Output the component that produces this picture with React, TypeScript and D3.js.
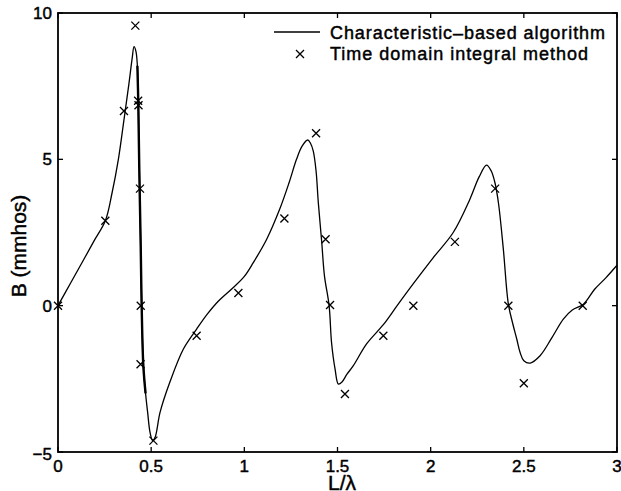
import React from "react";
import * as d3 from "d3";

const curveX = [0, 0.07, 0.136, 0.195, 0.254, 0.29, 0.324, 0.354, 0.38, 0.398, 0.408, 0.418, 0.426, 0.431, 0.436, 0.444, 0.449, 0.458, 0.47, 0.481, 0.494, 0.508, 0.521, 0.548, 0.6, 0.673, 0.744, 0.8, 0.86, 0.941, 1.0, 1.048, 1.12, 1.19, 1.24, 1.28, 1.31, 1.34, 1.355, 1.37, 1.385, 1.397, 1.415, 1.43, 1.455, 1.468, 1.487, 1.505, 1.525, 1.55, 1.585, 1.657, 1.746, 1.82, 1.907, 2.015, 2.121, 2.21, 2.26, 2.3, 2.325, 2.345, 2.364, 2.39, 2.417, 2.44, 2.462, 2.48, 2.5, 2.534, 2.587, 2.65, 2.712, 2.76, 2.82, 2.88, 2.94, 3.0];
const curveY = [0, 0.8, 1.55, 2.23, 2.9, 3.85, 5.0, 6.35, 7.55, 8.45, 8.85, 8.7, 8.2, 6.9, 4.77, 2.0, 0, -2.05, -3.0, -3.64, -4.33, -4.61, -4.5, -3.64, -2.62, -1.48, -0.8, -0.3, 0.15, 0.62, 1.0, 1.47, 2.27, 3.3, 4.2, 5.0, 5.45, 5.66, 5.55, 5.28, 4.6, 3.52, 2.2, 1.02, 0, -1.26, -2.17, -2.68, -2.6, -2.35, -2.05, -1.3, -0.65, 0.0, 0.75, 1.65, 2.5, 3.63, 4.4, 4.8, 4.6, 4.2, 3.5, 1.93, 0.05, -0.6, -1.14, -1.6, -1.88, -1.96, -1.71, -1.1, -0.46, -0.15, 0.05, 0.56, 0.95, 1.38];

const markX = [0, 0.254, 0.354, 0.415, 0.43, 0.432, 0.44, 0.444, 0.443, 0.512, 0.744, 0.968, 1.215, 1.385, 1.436, 1.46, 1.54, 1.746, 1.907, 2.13, 2.346, 2.417, 2.5, 2.816];
const markY = [0, 2.9, 6.65, 9.57, 7.0, 6.85, 4.0, 0, -2.0, -4.61, -1.03, 0.43, 2.98, 5.89, 2.27, 0.02, -3.02, -1.03, 0.0, 2.18, 4.0, 0.0, -2.65, 0.0];

const xTicks = [0, 0.5, 1, 1.5, 2, 2.5, 3];
const xTickLabels = ["0", "0.5", "1", "1.5", "2", "2.5", "3"];
const yTicks = [-5, 0, 5, 10];
const yTickLabels = ["\u22125", "0", "5", "10"];
const seriesNames = ["Characteristic\u2013based algorithm", "Time domain integral method"];
const xLabel = "L/\u03bb";
const yLabel = "B (mmhos)";

const W = 621, H = 491;
const L = 58, R = 617, T = 13, B = 452;

export default function App() {
  const x = d3.scaleLinear().domain([0, 3]).range([L, R]);
  const y = d3.scaleLinear().domain([-5, 10]).range([B, T]);
  const pts = curveX.map((v, i) => [v, curveY[i]] as [number, number]);
  const line = d3.line<[number, number]>().x(d => x(d[0])).y(d => y(d[1])).curve(d3.curveCatmullRom.alpha(0.5));
  const steep = pts.filter(p => p[0] >= 0.42 && p[0] <= 0.47);
  const font = "'Liberation Sans', Arial, Helvetica, sans-serif";
  const tk = 5;
  const cross = (cx: number, cy: number, k: string | number) => (
    <path key={k} d={`M${cx - 4},${cy - 4}L${cx + 4},${cy + 4}M${cx - 4},${cy + 4}L${cx + 4},${cy - 4}`} stroke="#000" strokeWidth={1.3} fill="none" />
  );
  const txtStyle = { fontFamily: font, fill: "#000", stroke: "#000", strokeWidth: 0.45 } as any;
  return (
    <svg width={W} height={H} style={{ position: "absolute", left: 0, top: 0, background: "#fff" }}>
      <rect x={0} y={0} width={W} height={H} fill="#fff" />
      <path d={line(pts) || ""} fill="none" stroke="#000" strokeWidth={1.3} />
      <path d={line(steep) || ""} fill="none" stroke="#000" strokeWidth={2.4} />
      {markX.map((v, i) => cross(x(v), y(markY[i]), i))}
      <rect x={L} y={T} width={R - L} height={B - T} fill="none" stroke="#000" strokeWidth={1.8} />
      {xTicks.map((t, i) => (
        <g key={"xt" + i}>
          <line x1={x(t)} x2={x(t)} y1={B} y2={B - tk} stroke="#000" strokeWidth={1.3} />
          <line x1={x(t)} x2={x(t)} y1={T} y2={T + tk} stroke="#000" strokeWidth={1.3} />
          <text x={x(t)} y={472} textAnchor="middle" fontSize={17} style={txtStyle}>{xTickLabels[i]}</text>
        </g>
      ))}
      {yTicks.map((t, i) => (
        <g key={"yt" + i}>
          <line x1={L} x2={L + tk} y1={y(t)} y2={y(t)} stroke="#000" strokeWidth={1.3} />
          <line x1={R} x2={R - tk} y1={y(t)} y2={y(t)} stroke="#000" strokeWidth={1.3} />
          <text x={52} y={y(t) + 6 + (t === -5 ? 2 : 0)} textAnchor="end" fontSize={17} style={txtStyle}>{yTickLabels[i]}</text>
        </g>
      ))}
      <text x={342} y={490} textAnchor="middle" fontSize={21} style={txtStyle}>{xLabel}</text>
      <text transform={`translate(26,246) rotate(-90)`} textAnchor="middle" fontSize={21} style={txtStyle}>{yLabel}</text>
      <line x1={274} x2={320} y1={32} y2={32} stroke="#000" strokeWidth={1.3} />
      <text x={330} y={39} fontSize={18} textLength={275} lengthAdjust="spacing" style={txtStyle}>{seriesNames[0]}</text>
      {cross(300, 54, "leg")}
      <text x={330} y={60} fontSize={18} textLength={258} lengthAdjust="spacing" style={txtStyle}>{seriesNames[1]}</text>
    </svg>
  );
}
